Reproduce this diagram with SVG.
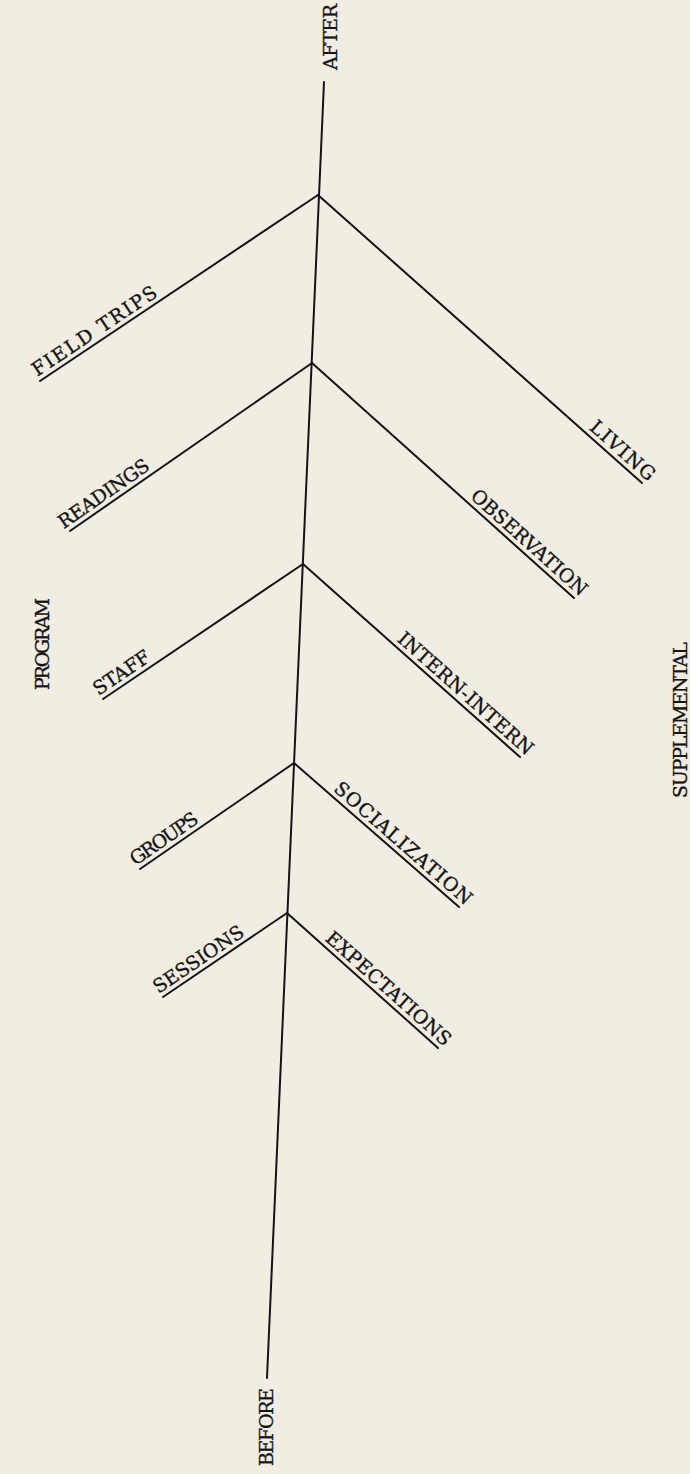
<svg xmlns="http://www.w3.org/2000/svg" width="690" height="1474" viewBox="0 0 690 1474">
<style>
.ln{stroke:#141414;stroke-width:2;fill:none;stroke-linecap:round}
.t{font-family:"DejaVu Serif","Liberation Serif",serif;font-size:19px;fill:#141414;stroke:#141414;stroke-width:0.35px}
</style>
<rect width="690" height="1474" fill="#f1ede2"/>
<g id="connectors">
<line class="ln" x1="324" y1="82" x2="267" y2="1378"/>
<line class="ln" x1="318" y1="195" x2="40" y2="381"/>
<line class="ln" x1="318" y1="195" x2="642" y2="483"/>
<line class="ln" x1="312" y1="363" x2="70" y2="531"/>
<line class="ln" x1="312" y1="363" x2="574" y2="598"/>
<line class="ln" x1="303" y1="564" x2="103" y2="699"/>
<line class="ln" x1="303" y1="564" x2="520" y2="757"/>
<line class="ln" x1="294" y1="763" x2="140" y2="869"/>
<line class="ln" x1="294" y1="763" x2="459" y2="907"/>
<line class="ln" x1="287" y1="913" x2="163" y2="997"/>
<line class="ln" x1="287" y1="913" x2="438" y2="1048"/>
</g>
<g id="after"><text class="t" textLength="66" lengthAdjust="spacing" transform="translate(337,70) rotate(-90)">AFTER</text></g>
<g id="before"><text class="t" textLength="78" lengthAdjust="spacing" transform="translate(273,1466) rotate(-90)">BEFORE</text></g>
<g id="program"><text class="t" textLength="92" lengthAdjust="spacing" transform="translate(49,690) rotate(-90)">PROGRAM</text></g>
<g id="supplemental"><text class="t" textLength="156" lengthAdjust="spacing" transform="translate(687,798) rotate(-90)">SUPPLEMENTAL</text></g>
<g id="field-trips"><text class="t" textLength="146" lengthAdjust="spacing" transform="translate(40,381) rotate(-33.8)" x="0" y="-5">FIELD TRIPS</text></g>
<g id="readings"><text class="t" textLength="106" lengthAdjust="spacing" transform="translate(70,531) rotate(-34.8)" x="-4" y="-5">READINGS</text></g>
<g id="staff"><text class="t" textLength="64" lengthAdjust="spacing" transform="translate(103,699) rotate(-34)" x="-2" y="-5">STAFF</text></g>
<g id="groups"><text class="t" textLength="78" lengthAdjust="spacing" transform="translate(140,869) rotate(-34.5)" x="-2" y="-5">GROUPS</text></g>
<g id="sessions"><text class="t" textLength="105" lengthAdjust="spacing" transform="translate(163,997) rotate(-34.1)" x="-2" y="-5">SESSIONS</text></g>
<g id="living"><text class="t" text-anchor="end" textLength="80" lengthAdjust="spacing" transform="translate(642,483) rotate(41.6)" x="4" y="-5">LIVING</text></g>
<g id="observation"><text class="t" text-anchor="end" textLength="149" lengthAdjust="spacing" transform="translate(574,598) rotate(41.9)" x="4" y="-5">OBSERVATION</text></g>
<g id="intern-intern"><text class="t" text-anchor="end" textLength="174" lengthAdjust="spacing" transform="translate(520,757) rotate(41.6)" x="4" y="-5">INTERN-INTERN</text></g>
<g id="socialization"><text class="t" text-anchor="end" textLength="176" lengthAdjust="spacing" transform="translate(459,907) rotate(41.1)" x="4" y="-5">SOCIALIZATION</text></g>
<g id="expectations"><text class="t" text-anchor="end" textLength="161" lengthAdjust="spacing" transform="translate(438,1048) rotate(41.8)" x="4" y="-5">EXPECTATIONS</text></g>
</svg>
